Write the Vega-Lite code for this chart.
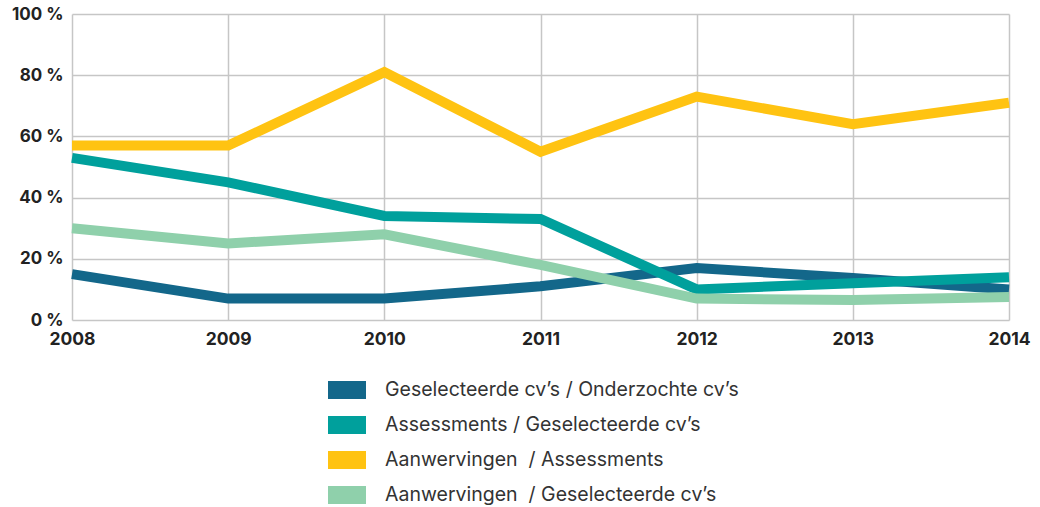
{
  "$schema": "https://vega.github.io/schema/vega-lite/v6.json",
  "width": 937,
  "height": 306,
  "autosize": "none",
  "padding": {"left": 72, "top": 14, "right": 31, "bottom": 187},
  "background": "white",
  "config": {
    "view": {"stroke": null},
    "font": "Inter"
  },
  "data": {
    "values": [
      {"year": "2008", "series": "Geselecteerde cv’s / Onderzochte cv’s", "value": 15},
      {"year": "2009", "series": "Geselecteerde cv’s / Onderzochte cv’s", "value": 7},
      {"year": "2010", "series": "Geselecteerde cv’s / Onderzochte cv’s", "value": 7},
      {"year": "2011", "series": "Geselecteerde cv’s / Onderzochte cv’s", "value": 11},
      {"year": "2012", "series": "Geselecteerde cv’s / Onderzochte cv’s", "value": 17},
      {"year": "2013", "series": "Geselecteerde cv’s / Onderzochte cv’s", "value": 13.7},
      {"year": "2014", "series": "Geselecteerde cv’s / Onderzochte cv’s", "value": 10},
      {"year": "2008", "series": "Assessments / Geselecteerde cv’s", "value": 53},
      {"year": "2009", "series": "Assessments / Geselecteerde cv’s", "value": 45},
      {"year": "2010", "series": "Assessments / Geselecteerde cv’s", "value": 34},
      {"year": "2011", "series": "Assessments / Geselecteerde cv’s", "value": 33},
      {"year": "2012", "series": "Assessments / Geselecteerde cv’s", "value": 10},
      {"year": "2013", "series": "Assessments / Geselecteerde cv’s", "value": 12},
      {"year": "2014", "series": "Assessments / Geselecteerde cv’s", "value": 14},
      {"year": "2008", "series": "Aanwervingen\u00a0 / Assessments", "value": 57},
      {"year": "2009", "series": "Aanwervingen\u00a0 / Assessments", "value": 57},
      {"year": "2010", "series": "Aanwervingen\u00a0 / Assessments", "value": 81},
      {"year": "2011", "series": "Aanwervingen\u00a0 / Assessments", "value": 55},
      {"year": "2012", "series": "Aanwervingen\u00a0 / Assessments", "value": 73},
      {"year": "2013", "series": "Aanwervingen\u00a0 / Assessments", "value": 64},
      {"year": "2014", "series": "Aanwervingen\u00a0 / Assessments", "value": 71},
      {"year": "2008", "series": "Aanwervingen\u00a0 / Geselecteerde cv’s", "value": 30},
      {"year": "2009", "series": "Aanwervingen\u00a0 / Geselecteerde cv’s", "value": 25},
      {"year": "2010", "series": "Aanwervingen\u00a0 / Geselecteerde cv’s", "value": 28},
      {"year": "2011", "series": "Aanwervingen\u00a0 / Geselecteerde cv’s", "value": 18},
      {"year": "2012", "series": "Aanwervingen\u00a0 / Geselecteerde cv’s", "value": 7},
      {"year": "2013", "series": "Aanwervingen\u00a0 / Geselecteerde cv’s", "value": 6.5},
      {"year": "2014", "series": "Aanwervingen\u00a0 / Geselecteerde cv’s", "value": 7.5}
    ]
  },
  "mark": {"type": "line", "strokeWidth": 10, "strokeJoin": "miter", "strokeCap": "butt"},
  "encoding": {
    "x": {
      "field": "year", "type": "ordinal",
      "scale": {"type": "point", "padding": 0},
      "axis": {
        "title": null, "labelAngle": 0, "domain": false, "ticks": false,
        "grid": true, "gridColor": "#c6c6c6", "gridWidth": 1.5,
        "labelFontSize": 17.5, "labelFontWeight": "bold", "labelColor": "#222222",
        "labelPadding": 10
      }
    },
    "y": {
      "field": "value", "type": "quantitative",
      "scale": {"domain": [0, 100], "nice": false},
      "axis": {
        "title": null, "values": [0, 20, 40, 60, 80, 100],
        "labelExpr": "datum.value + ' %'",
        "domain": false, "ticks": false,
        "grid": true, "gridColor": "#c6c6c6", "gridWidth": 1.5,
        "labelFontSize": 17, "labelFontWeight": "bold", "labelColor": "#222222",
        "labelPadding": 9
      }
    },
    "color": {
      "field": "series", "type": "nominal",
      "sort": ["Geselecteerde cv’s / Onderzochte cv’s", "Assessments / Geselecteerde cv’s", "Aanwervingen\u00a0 / Assessments", "Aanwervingen\u00a0 / Geselecteerde cv’s"],
      "scale": {
        "domain": ["Geselecteerde cv’s / Onderzochte cv’s", "Assessments / Geselecteerde cv’s", "Aanwervingen\u00a0 / Assessments", "Aanwervingen\u00a0 / Geselecteerde cv’s"],
        "range": ["#13678a", "#00a09c", "#ffc312", "#8fd0ab"]
      },
      "legend": {
        "title": null,
        "orient": "none",
        "legendX": 256,
        "legendY": 357,
        "direction": "vertical",
        "symbolType": "M-1,-0.47H1V0.47H-1Z",
        "symbolSize": 1444,
        "symbolStrokeWidth": 0,
        "rowPadding": 6,
        "labelOffset": 19,
        "labelFontSize": 19.5,
        "labelColor": "#333333",
        "labelLimit": 500,
        "encode": {
          "symbols": {"update": {"fill": {"scale": "color", "field": "value"}, "opacity": {"value": 1}}}
        }
      }
    }
  }
}
